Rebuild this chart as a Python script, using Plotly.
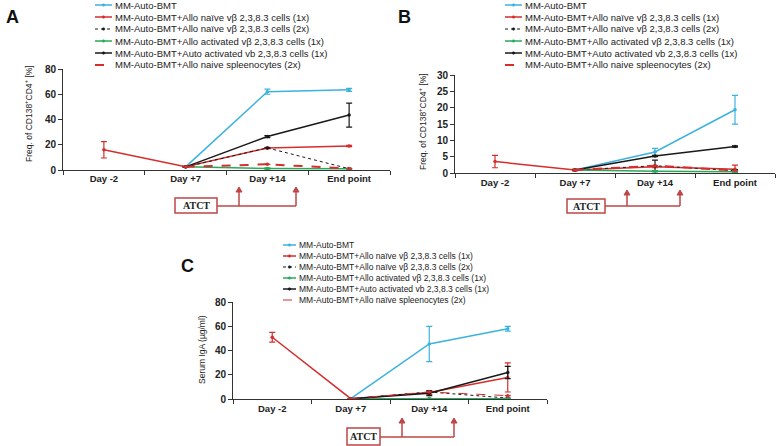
import plotly.graph_objects as go

W, H = 778, 446

categories = ["Day -2", "Day +7", "Day +14", "End point"]
series_names = [
    "MM-Auto-BMT",
    "MM-Auto-BMT+Allo naïve vβ 2,3,8.3 cells (1x)",
    "MM-Auto-BMT+Allo naïve vβ 2,3,8.3 cells (2x)",
    "MM-Auto-BMT+Allo activated vβ 2,3,8.3 cells (1x)",
    "MM-Auto-BMT+Auto activated vb 2,3,8.3 cells (1x)",
    "MM-Auto-BMT+Allo naive spleenocytes (2x)",
]
series_names_c = [
    "MM-Auto-BMT",
    "MM-Auto-BMT+Allo naïve vβ 2,3,8.3 cells (1x)",
    "MM-Auto-BMT+Allo naïve vβ 2,3,8.3 cells (2x)",
    "MM-Auto-BMT+Allo activated vβ 2,3,8.3 cells (1x)",
    "MM-Auto-BMT+Auto activated vb 2,3,8.3 cells (1x)",
    "MM-Auto-BMT+Allo naïve spleenocytes (2x)",
]

# Panel A: Freq. of CD138+CD4+ [%]
a_auto_bmt = [None, 2.5, 62, 63.5]
a_auto_bmt_err = [0, 0, 2, 1.2]
a_naive1x = [16, 2.5, 17.5, 19]
a_naive1x_err = [6.5, 0.5, 0.5, 0.5]
a_naive2x = [None, 2.5, 17.5, 1]
a_naive2x_err = [0, 0, 0, 0]
a_alloact = [None, 2.5, 1.2, 1]
a_alloact_err = [0, 0, 0.5, 0.5]
a_autoact = [None, 2.5, 26.5, 43.5]
a_autoact_err = [0, 0, 0.8, 9.5]
a_spleen = [None, 2.5, 4.5, 1.2]
a_spleen_err = [0, 0, 0, 0]

# Panel B: Freq. of CD138+CD4+ [%]
b_auto_bmt = [None, 1.0, 6.5, 19.4]
b_auto_bmt_err = [0, 0, 1.1, 4.4]
b_naive1x = [3.6, 1.0, 2.0, 1.2]
b_naive1x_err = [1.9, 0.3, 0.3, 1.3]
b_naive2x = [None, 1.0, 2.3, 0.8]
b_naive2x_err = [0, 0, 1.7, 0.3]
b_alloact = [None, 1.0, 0.6, 0.5]
b_alloact_err = [0, 0, 0.2, 0.2]
b_autoact = [None, 1.0, 5.3, 8.2]
b_autoact_err = [0, 0, 0.2, 0.2]
b_spleen = [None, 1.0, 2.3, 0.9]
b_spleen_err = [0, 0, 0, 0]

# Panel C: Serum IgA (µg/ml)
c_auto_bmt = [None, 0.5, 45.5, 58]
c_auto_bmt_err = [0, 0, 14.5, 2]
c_naive1x = [51, 0.5, 5.5, 18]
c_naive1x_err = [4, 0, 1.5, 12]
c_naive2x = [None, 0.5, 6, 1]
c_naive2x_err = [0, 0, 0, 0]
c_alloact = [None, 0.5, 0.8, 0.5]
c_alloact_err = [0, 0, 0, 0]
c_autoact = [None, 0.5, 5, 22]
c_autoact_err = [0, 0, 2, 5]
c_spleen = [None, 0.5, 6, 3]
c_spleen_err = [0, 0, 0, 0]

CYAN = "rgb(60,178,222)"
RED = "rgb(214,45,45)"
BLACK = "rgb(25,25,25)"
GREEN = "rgb(40,170,90)"
BOXRED = "rgb(190,70,70)"
FONT = "Liberation Sans, Arial"

styles = [
    dict(color=CYAN, dash="solid", width=1.5),
    dict(color=RED, dash="solid", width=1.5),
    dict(color=BLACK, dash="dot", width=1),
    dict(color=GREEN, dash="solid", width=1.5),
    dict(color=BLACK, dash="solid", width=1.5),
    dict(color=RED, dash="dash", width=2),
]


def fx(p):
    return p / W


def fy(p):
    return 1 - p / H


fig = go.Figure()

panels = [
    ("", [(a_auto_bmt, a_auto_bmt_err), (a_naive1x, a_naive1x_err), (a_naive2x, a_naive2x_err),
          (a_alloact, a_alloact_err), (a_autoact, a_autoact_err), (a_spleen, a_spleen_err)],
     series_names, 95, 112, 5, 12, 9.5, False),
    ("2", [(b_auto_bmt, b_auto_bmt_err), (b_naive1x, b_naive1x_err), (b_naive2x, b_naive2x_err),
           (b_alloact, b_alloact_err), (b_autoact, b_autoact_err), (b_spleen, b_spleen_err)],
     series_names, 505, 522, 5, 12, 9.5, False),
    ("3", [(c_auto_bmt, c_auto_bmt_err), (c_naive1x, c_naive1x_err), (c_naive2x, c_naive2x_err),
           (c_alloact, c_alloact_err), (c_autoact, c_autoact_err), (c_spleen, c_spleen_err)],
     series_names_c, 283, 296, 245, 11, 8.5, True),
]

for xs, data, names, lx0, lx1, ly0, lstep, lsize, thin_spleen in panels:
    for i, ((vals, errs), name, st) in enumerate(zip(data, names, styles)):
        st = dict(st)
        if thin_spleen and i == 5:
            st["width"] = 1
        fig.add_trace(go.Scatter(
            x=categories, y=vals, name=name, mode="lines+markers",
            line=dict(color=st["color"], dash=st["dash"], width=st["width"]),
            marker=dict(size=3.5, color=st["color"]),
            error_y=dict(type="data", array=errs, visible=True, color=st["color"],
                         thickness=1.2, width=3),
            connectgaps=False, showlegend=False,
            xaxis="x" + xs, yaxis="y" + xs,
        ))
        # legend entry (drawn manually for compact spacing)
        yy = ly0 + i * lstep
        fig.add_shape(type="line", xref="paper", yref="paper",
                      x0=fx(lx0), x1=fx(lx1), y0=fy(yy), y1=fy(yy),
                      line=dict(color=st["color"], width=st["width"], dash=st["dash"]))
        if st["dash"] != "dash":
            cx = (lx0 + lx1) / 2
            fig.add_shape(type="circle", xref="paper", yref="paper",
                          x0=fx(cx - 1.3), x1=fx(cx + 1.3), y0=fy(yy + 1.3), y1=fy(yy - 1.3),
                          line=dict(color=st["color"], width=0.5), fillcolor=st["color"])
        fig.add_annotation(text=name, x=fx(lx1 + 1), y=fy(yy), xref="paper", yref="paper",
                           xanchor="left", yanchor="middle", showarrow=False,
                           font=dict(family=FONT, size=lsize, color="#222"))

axis_font = dict(family=FONT, size=9.5, color="#222", weight="bold")
xcommon = dict(type="category", categoryorder="array", categoryarray=categories,
               range=[-0.5, 3.5], showline=True, linecolor="#333", linewidth=1,
               ticks="outside", tickson="boundaries", ticklen=4, tickcolor="#333",
               showgrid=False, zeroline=False, tickfont=axis_font, fixedrange=True,
               automargin=False)
ycommon = dict(showline=True, linecolor="#333", linewidth=1, ticks="outside",
               ticklen=4, tickcolor="#333", showgrid=False, zeroline=False,
               tickfont=dict(axis_font, size=10), fixedrange=True, automargin=False)

fig.update_layout(
    width=W, height=H, margin=dict(l=0, r=0, t=0, b=0, autoexpand=False),
    paper_bgcolor="white", plot_bgcolor="white", showlegend=False,
    xaxis=dict(xcommon, domain=[fx(63), fx(390)], anchor="y"),
    yaxis=dict(ycommon, domain=[fy(170), fy(69)], range=[0, 80], dtick=20, anchor="x"),
    xaxis2=dict(xcommon, domain=[fx(455), fx(775)], anchor="y2"),
    yaxis2=dict(ycommon, domain=[fy(173.3), fy(75)], range=[0, 30], dtick=5, anchor="x2"),
    xaxis3=dict(xcommon, domain=[fx(233), fx(547)], anchor="y3"),
    yaxis3=dict(ycommon, domain=[fy(399.3), fy(302)], range=[0, 80], dtick=20, anchor="x3"),
)

# Panel letters and y-axis titles
for txt, x, y in [("A", 12, 17), ("B", 404, 17), ("C", 187, 266)]:
    fig.add_annotation(text=f"<b>{txt}</b>", x=fx(x), y=fy(y), xref="paper", yref="paper",
                       xanchor="center", yanchor="middle",
                       showarrow=False, font=dict(family=FONT, size=18, color="#111"))

for txt, x, y in [("Freq. of CD138<sup>+</sup>CD4<sup>+</sup> [%]", 28, 114),
                  ("Freq. of CD138<sup>+</sup>CD4<sup>+</sup> [%]", 422, 122),
                  ("Serum IgA (µg/ml)", 202, 350)]:
    fig.add_annotation(text=txt, x=fx(x), y=fy(y), xref="paper", yref="paper", textangle=-90,
                       xanchor="center", yanchor="middle",
                       showarrow=False, font=dict(family=FONT, size=8.5, color="#222"))

# ATCT boxes with arrows
atct = [  # box x0, x1, y0, y1, line y, arrow1 x, arrow2 x, arrow top y
    (175, 217, 198, 213, 206, 239, 296, 187),
    (567, 605, 199, 213, 206, 627, 680, 190),
    (347, 380, 428, 445, 437, 402, 454, 418),
]
for x0, x1, y0, y1, ly, a1, a2, top in atct:
    fig.add_shape(type="rect", xref="paper", yref="paper", x0=fx(x0), x1=fx(x1), y0=fy(y1), y1=fy(y0),
                  line=dict(color=BOXRED, width=1.5), fillcolor="white")
    fig.add_annotation(text="<b>ATCT</b>", x=fx((x0 + x1) / 2), y=fy((y0 + y1) / 2), xref="paper", yref="paper",
                       xanchor="center", yanchor="middle",
                       showarrow=False, font=dict(family="Liberation Serif, Times New Roman", size=10, color="#222"))
    fig.add_shape(type="line", xref="paper", yref="paper", x0=fx(x1), x1=fx(a2), y0=fy(ly), y1=fy(ly),
                  line=dict(color=BOXRED, width=1.5))
    for ax_ in (a1, a2):
        fig.add_shape(type="line", xref="paper", yref="paper", x0=fx(ax_), x1=fx(ax_),
                      y0=fy(ly), y1=fy(top + 4), line=dict(color=BOXRED, width=1.5))
        fig.add_shape(type="path", xref="paper", yref="paper",
                      path=f"M {fx(ax_ - 3)},{fy(top + 5)} L {fx(ax_)},{fy(top)} L {fx(ax_ + 3)},{fy(top + 5)} Z",
                      line=dict(color=BOXRED, width=1), fillcolor=BOXRED)

fig.write_html("out.html", config={"displayModeBar": False},
               post_script="document.body.style.margin='0';document.body.style.overflow='hidden';")
